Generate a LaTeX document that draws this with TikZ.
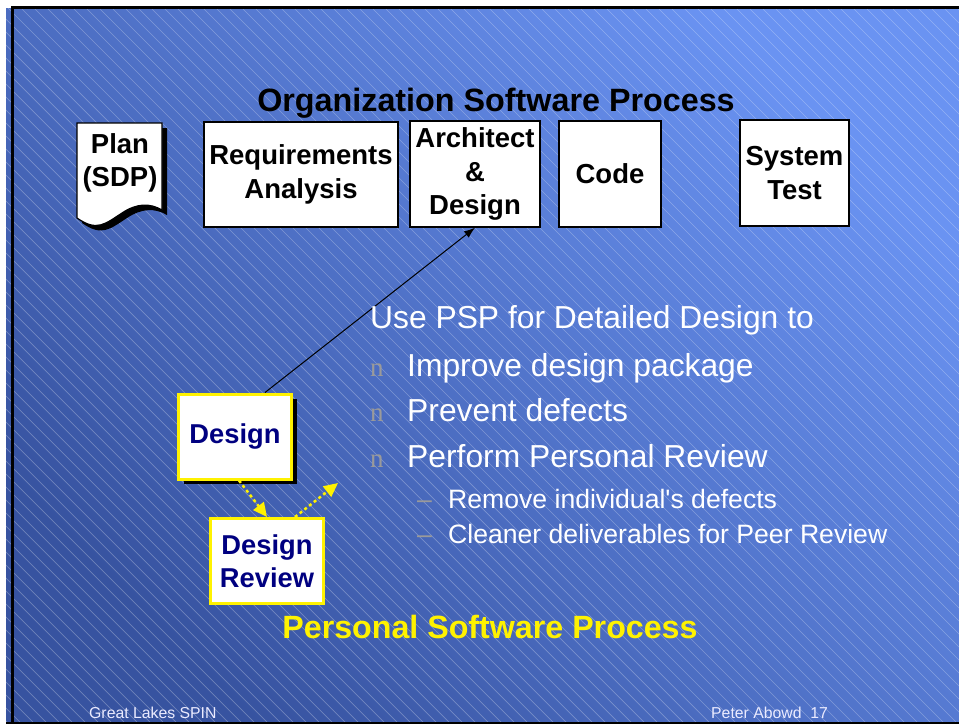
\documentclass[tikz,border=0pt]{standalone}
\usepackage{fontspec}
\setmainfont{Liberation Sans}
\newfontfamily\bulletfont{Liberation Serif}
\usetikzlibrary{arrows.meta,shadows}
\definecolor{slidelight}{HTML}{6A93F2}
\definecolor{slidedark}{HTML}{3753A0}
\definecolor{pspnavy}{HTML}{000080}
\definecolor{bulletgray}{HTML}{9A9A9A}

\begin{document}
\begin{tikzpicture}[x=1pt, y=-1pt,
        phase/.style={rectangle, draw=black, line width=1.4pt, fill=white, inner sep=0pt, align=center, font=\fontsize{27.5}{33.5}\selectfont\bfseries},
        psp/.style={rectangle, draw=yellow, line width=3pt, fill=white, inner sep=0pt, minimum width=113pt, minimum height=85pt, align=center, text=pspnavy, font=\fontsize{27.3}{33}\selectfont\bfseries},
        item/.style={anchor=base west, inner sep=0pt, text=white, font=\fontsize{31.8}{36}\selectfont},
        subitem/.style={anchor=base west, inner sep=0pt, text=white, font=\fontsize{26.6}{32}\selectfont},
        bullet/.style={anchor=base west, inner sep=0pt, text=bulletgray, font=\fontsize{27}{30}\bulletfont},
        footer/.style={anchor=base west, inner sep=0pt, text=white!92!blue, font=\fontsize{15.8}{18}\selectfont},
        reviewflow/.style={draw=yellow, line width=2.5pt, dash pattern=on 3pt off 3pt, -{Triangle[length=14pt,width=13pt]}}
    ]
        \useasboundingbox (0,0) rectangle (959,724);

        % Slide background
        \shade[top color=slidelight, bottom color=slidedark, shading angle=-45] (6,8) rectangle (959,722);
        \begin{scope}
            \clip (6,8) rectangle (959,722);
            \foreach \i in {-720,-707,...,960}
                \draw[white, opacity=0.28, line width=0.7pt] (\i,8) -- ++(714,714);
        \end{scope}
        \fill[black] (11,6) rectangle (959,9);
        \fill[black] (11,6) rectangle (14,722);
        \fill[black] (6,722) rectangle (959,724);

        % Organization process
        \node[anchor=base, font=\fontsize{32.3}{38}\selectfont\bfseries] (orgtitle) at (496,111) {Organization Software Process};

        \fill[black, shift={(5,5)}] (77,123) -- (162,123) -- (162,210) .. controls (150,203) and (137,203) .. (122,213) .. controls (105,224) and (97,232) .. (77,218) -- cycle;
        \filldraw[fill=white, draw=black, line width=1.2pt] (77,123) -- (162,123) -- (162,210) .. controls (150,203) and (137,203) .. (122,213) .. controls (105,224) and (97,232) .. (77,218) -- cycle;
        \node[align=center, font=\fontsize{27.5}{33}\selectfont\bfseries] (plan) at (120,163) {Plan\\(SDP)};

        \node[phase, minimum width=194pt, minimum height=105pt] (req) at (301,174.5) {Requirements\\Analysis};
        \node[phase, minimum width=130pt, minimum height=106pt] (arch) at (475,174) {Architect\\\&\\Design};
        \node[phase, minimum width=102pt, minimum height=106pt] (code) at (610,174) {Code};
        \node[phase, minimum width=109pt, minimum height=106pt] (systest) at (794.5,173) {System\\Test};

        % Personal process
        \node[psp, drop shadow={shadow xshift=5pt, shadow yshift=-5pt, fill=black, opacity=1}] (design) at (235,436.5) {Design};
        \node[psp] (review) at (267,561) {Design\\Review};
        \coordinate (reviewout) at (338,483);

        \draw[-{Latex[length=11pt,width=8pt]}, line width=1pt] ([xshift=30pt]design.north) -- (arch.south);
        \draw[reviewflow] ([xshift=4pt]design.south) -- (review.north);
        \draw[reviewflow] ([xshift=28pt]review.north) -- (reviewout);

        % Bullet text
        \node[item] (usepsp) at (370,328) {Use PSP for Detailed Design to};
        \node[bullet] (b1) at (370,376) {n};
        \node[item] (improve) at (407,376) {Improve design package};
        \node[bullet] (b2) at (370,421) {n};
        \node[item] (prevent) at (407,421) {Prevent defects};
        \node[bullet] (b3) at (370,467) {n};
        \node[item] (perform) at (407,467) {Perform Personal Review};
        \node[subitem, text=bulletgray] (d1) at (417,508) {--};
        \node[subitem] (remove) at (448,508) {Remove individual\textquotesingle s defects};
        \node[subitem, text=bulletgray] (d2) at (417,543) {--};
        \node[subitem] (cleaner) at (448,543) {Cleaner deliverables for Peer Review};

        \node[anchor=base, text=yellow, font=\fontsize{32.2}{37}\selectfont\bfseries] (psptitle) at (490,638) {Personal Software Process};

        % Footer
        \node[footer] (venue) at (89,718) {Great Lakes SPIN};
        \node[footer] (speaker) at (711,718) {Peter Abowd\ \ 17};
    \end{tikzpicture}
\end{document}
